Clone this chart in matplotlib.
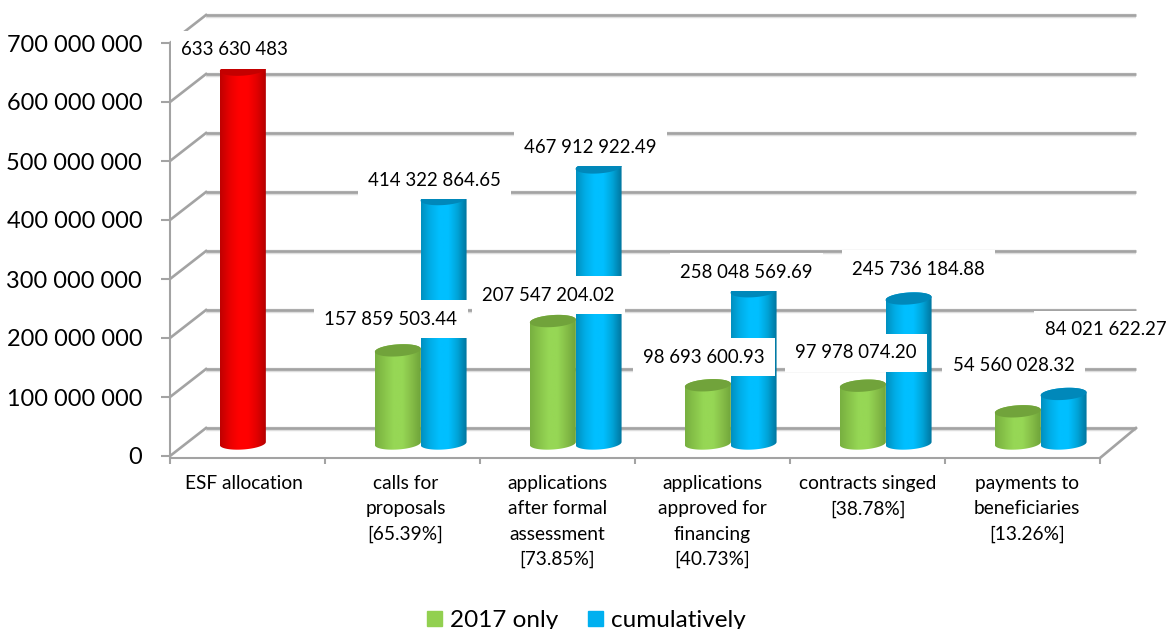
import numpy as np
import matplotlib
matplotlib.use('Agg')
import matplotlib.pyplot as plt
from matplotlib.colors import LinearSegmentedColormap
from matplotlib.patches import Patch, Polygon
from matplotlib.ticker import FuncFormatter

categories = ['ESF allocation', 'calls for\nproposals\n[65.39%]',
              'applications\nafter formal\nassessment\n[73.85%]',
              'applications\napproved for\nfinancing\n[40.73%]',
              'contracts singed\n[38.78%]', 'payments to\nbeneficiaries\n[13.26%]']
allocation = 633630483
only_2017 = [157859503.44, 207547204.02, 98693600.93, 97978074.20, 54560028.32]
cumulative = [414322864.65, 467912922.49, 258048569.69, 245736184.88, 84021622.27]
y_ticks = [0, 100e6, 200e6, 300e6, 400e6, 500e6, 600e6, 700e6]

# label offsets from the top of each bar, in pixels
alloc_offset = (-8, 20)
only_offsets = [(-7, 31), (-4.5, 26), (-4, 28), (-7, 33), (-4, 46)]
cum_offsets = [(-9, 19), (-8, 20), (-7, 19), (10, 29.5), (42, 64)]
label_centers = [0.475, 1.52, 2.5, 3.5, 4.5, 5.53]

plt.rcParams['font.family'] = ['Lato', 'DejaVu Sans']

W, H = 1168, 629
fig = plt.figure(figsize=(W / 100, H / 100), dpi=100)
ax = fig.add_axes([170 / W, 1 - 456 / H, 930 / W, 413 / H])

# size of one pixel in data units
px_x = 6 / 930
px_y = 700e6 / 413
depth_x = 36 * px_x
depth_y = 28 * px_y
base = 12.5 * px_y
half_w = 23 * px_x


def cap_points(x, y, half=6.0):
    t = np.linspace(0, 2 * np.pi, 80)
    ex = np.cos(t) * 23
    ey = np.sin(t) * half + np.cos(t) * 1.5
    return np.column_stack([x + ex * px_x, y + ey * px_y])


def cylinder(x, value, colors, cap_color):
    bottom = cap_points(x, base)
    top = cap_points(x, base + value)
    # lower half of the base ellipse, then upper half of the top one
    lower = bottom[40:]
    upper = top[:41]
    body = Polygon(np.vstack([lower, upper]), closed=True, fc='none', ec='none',
                   transform=ax.transData)
    ax.add_patch(body)
    cmap = LinearSegmentedColormap.from_list('cyl', colors)
    im = ax.imshow(np.linspace(0, 1, 64).reshape(1, -1), cmap=cmap, aspect='auto',
                   extent=[x - half_w, x + half_w, 0, base + value + 10 * px_y], zorder=3)
    im.set_clip_path(body)
    ax.add_patch(Polygon(top, closed=True, fc=cap_color, ec='none', zorder=3.1))


# back wall and side wall lines
for tick in y_ticks:
    for lw, col, shift in [(3.2, '#DEDEDE', -1.2), (1.9, '#A3A3A3', 0)]:
        yy = tick + depth_y + shift * px_y
        ax.plot([depth_x, 6 + depth_x], [yy, yy], color=col, lw=lw, clip_on=False,
                zorder=1, solid_capstyle='butt')
    ax.plot([0, depth_x], [tick, tick + depth_y], color='#A3A3A3', lw=1.9, clip_on=False, zorder=1)
ax.plot([6, 6 + depth_x], [-2 * px_y, depth_y], color='#A3A3A3', lw=1.9, clip_on=False, zorder=1)

red = ['#C00000', '#E80000', '#FF0000', '#FF0000', '#E00000', '#B00000']
green = ['#78B040', '#88C44A', '#96D755', '#96D755', '#86BE48', '#6FA43A']
blue = ['#0090C0', '#00AEE8', '#00BFFF', '#00BFFF', '#00A4D8', '#00769F']

x_first = 0.47
x_second = 0.765
cylinder(x_first, allocation, red, '#C40000')
for i in range(5):
    cylinder(i + 1 + x_first, only_2017[i], green, '#71A33B')
    cylinder(i + 1 + x_second, cumulative[i], blue, '#0088BA')

box = dict(boxstyle='square,pad=0.56', fc='white', ec='none')


def put_label(text, x, value, offset):
    ax.annotate(text, xy=(x, base + value), xytext=offset, textcoords='offset pixels',
                ha='center', va='center', fontsize=13.4, color='black', bbox=box,
                zorder=5, annotation_clip=False)


def money(v):
    return f'{v:,.2f}'.replace(',', ' ')


put_label(f'{allocation:,}'.replace(',', ' '), x_first, allocation, alloc_offset)
for i in range(5):
    put_label(money(cumulative[i]), i + 1 + x_second, cumulative[i], cum_offsets[i])
    put_label(money(only_2017[i]), i + 1 + x_first, only_2017[i], only_offsets[i])

ax.set_xlim(0, 6)
ax.set_ylim(0, 700e6)
ax.patch.set_alpha(0)

for s in ['top', 'right']:
    ax.spines[s].set_visible(False)
for s in ['left', 'bottom']:
    ax.spines[s].set_color('#A3A3A3')
    ax.spines[s].set_linewidth(1.5)
ax.spines['bottom'].set_position(('outward', 1.5))

ax.set_yticks(y_ticks)
ax.yaxis.set_major_formatter(FuncFormatter(lambda v, pos: f'{v:,.0f}'.replace(',', ' ')))
ax.tick_params(axis='y', length=6.5, width=1.5, color='#A3A3A3', labelsize=16.9, pad=13.5)
ax.set_xticks(range(7))
ax.set_xticklabels([])
ax.set_xticks(label_centers, minor=True)
ax.set_xticklabels(categories, minor=True, fontsize=13.8, linespacing=1.6)
ax.tick_params(axis='x', which='major', length=4, width=1.5, color='#A3A3A3')
ax.tick_params(axis='x', which='minor', length=0, pad=12)

handles = [Patch(color='#92D050', label='2017 only'), Patch(color='#00B0F0', label='cumulatively')]
fig.legend(handles=handles, loc='center', bbox_to_anchor=(586.5 / W, 1 - 620.5 / H), ncol=2, frameon=False,
           fontsize=17.5, handlelength=0.62, handleheight=0.62, handletextpad=0.33, columnspacing=1.2)

fig.savefig('out.png', dpi=100)
